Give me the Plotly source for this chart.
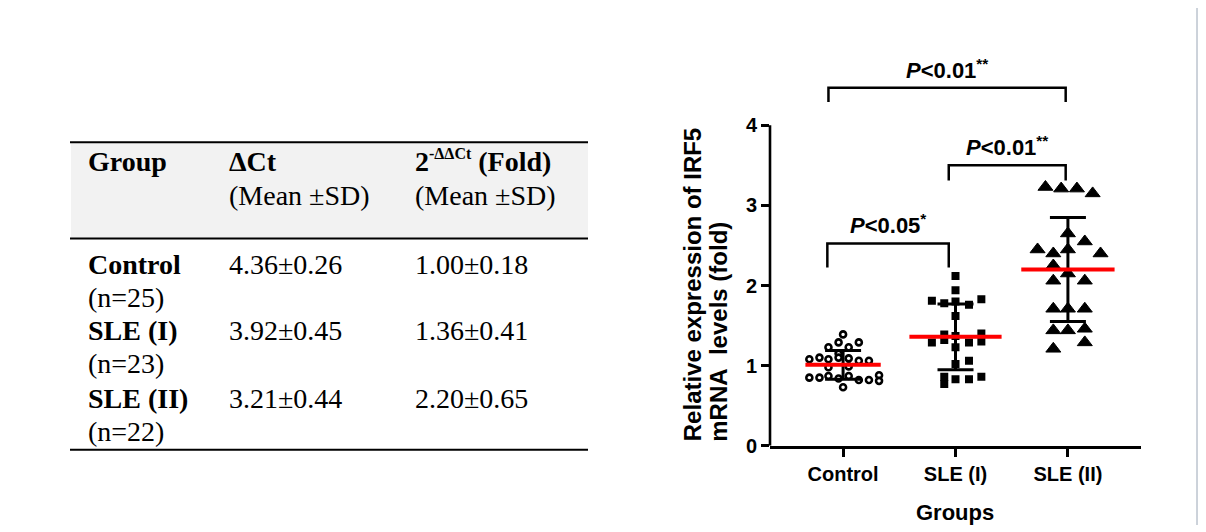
import plotly.graph_objects as go

# Page geometry: the body keeps an 8px margin, and the captured page is
# slightly taller (in CSS px) than the final picture, which is squeezed to 532.
WIN_W, PAGE_MARGIN = 1206, 8
PIC_H, PAGE_H = 532, 544
S_Y = PIC_H / PAGE_H
W, H = WIN_W - 2 * PAGE_MARGIN, PAGE_H - 2 * PAGE_MARGIN

# ---------------- data ----------------
groups = ["Control", "SLE (I)", "SLE (II)"]

control_offsets = [0.00, -0.04, 0.14, -0.13, 0.05, -0.04, -0.30, -0.21, -0.13, -0.04, 0.05,
                   0.14, 0.23, -0.13, 0.05, -0.30, -0.21, -0.13, -0.04, 0.05, 0.14, 0.23,
                   0.32, 0.32, 0.00]
control_values = [1.39, 1.29, 1.29, 1.23, 1.23, 1.15, 1.08, 1.10, 1.08, 1.10, 1.09,
                  1.06, 1.06, 0.98, 0.99, 0.85, 0.85, 0.87, 0.84, 0.87, 0.82, 0.82,
                  0.88, 0.81, 0.73]

sle1_offsets = [0.00, 0.00, -0.21, -0.10, 0.00, 0.12, 0.23, 0.00,
                -0.10, -0.10, 0.00, 0.23, 0.23, -0.21, 0.12, 0.00, 0.12, 0.00,
                -0.10, -0.10, 0.00, 0.12, 0.23]
sle1_values = [2.12, 1.94, 1.81, 1.78, 1.80, 1.76, 1.83, 1.62,
               1.39, 1.32, 1.37, 1.40, 1.30, 1.29, 1.29, 1.23, 1.06, 1.02,
               0.86, 0.77, 0.83, 0.83, 0.86]

sle2_offsets = [-0.20, -0.06, 0.08, 0.22, 0.00, 0.15, -0.27, -0.13, 0.00, 0.29, -0.13,
                -0.13, 0.00, 0.15, -0.13, 0.00, 0.15, -0.13, 0.00, 0.15, 0.15, -0.13]
sle2_values = [3.23, 3.21, 3.21, 3.15, 2.65, 2.55, 2.45, 2.40, 2.45, 2.40, 2.25,
               2.06, 2.15, 2.06, 1.71, 1.71, 1.71, 1.44, 1.44, 1.46, 1.29, 1.21]

group_means = [1.01, 1.36, 2.20]
group_sds = [0.18, 0.41, 0.65]
y_ticks = [0, 1, 2, 3, 4]

# significance brackets
bracket_x0 = [-0.14, 0.94, -0.13]
bracket_x1 = [0.94, 1.98, 1.98]
bracket_top = [2.525, 3.50, 4.47]
bracket_drop = [0.30, 0.19, 0.18]
bracket_p = ["0.05", "0.01", "0.01"]
bracket_stars = ["*", "**", "**"]

# table content
table_head = ["Group", "ΔCt", "2<sup><span style='font-size:16px'>-ΔΔCt</span></sup> (Fold)"]
table_subhead = ["", "(Mean ±SD)", "(Mean ±SD)"]
table_groups = ["Control", "SLE (I)", "SLE (II)"]
table_n = ["(n=25)", "(n=23)", "(n=22)"]
table_dct = ["4.36±0.26", "3.92±0.45", "3.21±0.44"]
table_fold = ["1.00±0.18", "1.36±0.41", "2.20±0.65"]

# ---------------- helpers (picture pixel -> paper) ----------------
def px(x):
    return (x - PAGE_MARGIN) / W

def py(y):
    return 1 - (y / S_Y - PAGE_MARGIN) / H

SANS = "Liberation Sans, Arial, sans-serif"
SERIF = "Liberation Serif, Times New Roman, serif"

fig = go.Figure()

# points
fig.add_trace(go.Scatter(
    x=[0 + o for o in control_offsets], y=control_values, mode="markers",
    marker=dict(symbol="circle", size=6, color="white", line=dict(color="black", width=2.6)),
    hoverinfo="skip", showlegend=False))
fig.add_trace(go.Scatter(
    x=[1 + o for o in sle1_offsets], y=sle1_values, mode="markers",
    marker=dict(symbol="square", size=8, color="black", line=dict(width=0)),
    hoverinfo="skip", showlegend=False))
fig.add_trace(go.Scatter(
    x=[2 + o for o in sle2_offsets], y=sle2_values, mode="markers",
    marker=dict(symbol="triangle-up", size=13, color="black", line=dict(color="black", width=1)),
    hoverinfo="skip", showlegend=False))

# SD error bars
fig.add_trace(go.Scatter(
    x=list(range(len(groups))), y=group_means, mode="markers",
    marker=dict(size=1, color="rgba(0,0,0,0)"),
    error_y=dict(type="data", array=group_sds, visible=True, color="black", thickness=3, width=18),
    hoverinfo="skip", showlegend=False))

# mean lines
mean_half = [0.335, 0.41, 0.415]
for i, m in enumerate(group_means):
    fig.add_trace(go.Scatter(
        x=[i - mean_half[i], i + mean_half[i]], y=[m, m], mode="lines",
        line=dict(color="#ff0000", width=4), hoverinfo="skip", showlegend=False))

shapes = []
# y axis line from 0 to 4
shapes.append(dict(type="line", xref="x domain", yref="y", x0=0, x1=0, y0=0, y1=max(y_ticks),
                   line=dict(color="black", width=2.6)))

# brackets
for x0, x1, top, drop in zip(bracket_x0, bracket_x1, bracket_top, bracket_drop):
    shapes.append(dict(type="path", xref="x", yref="y",
                       path=f"M {x0},{top - drop} L {x0},{top} L {x1},{top} L {x1},{top - drop}",
                       line=dict(color="black", width=2.5)))

annotations = []
for x0, x1, top, p, s in zip(bracket_x0, bracket_x1, bracket_top, bracket_p, bracket_stars):
    annotations.append(dict(
        x=(x0 + x1) / 2, y=top, xref="x", yref="y", showarrow=False,
        xanchor="center", yanchor="bottom", yshift=3,
        text=f"<i>P</i>&lt;{p}<sup>{s}</sup>",
        font=dict(family=SANS, size=22, color="black", weight="bold")))

# axis titles
annotations.append(dict(x=1, y=py(512), xref="x", yref="paper", showarrow=False,
                        xanchor="center", yanchor="middle", text="Groups",
                        font=dict(family=SANS, size=22, color="black", weight="bold")))
annotations.append(dict(x=px(692), y=py(443), xref="paper", yref="paper", showarrow=False,
                        xanchor="center", yanchor="bottom", textangle=-90,
                        text="Relative expression of IRF5",
                        font=dict(family=SANS, size=24, color="black", weight="bold")))
annotations.append(dict(x=px(719), y=py(443), xref="paper", yref="paper", showarrow=False,
                        xanchor="center", yanchor="bottom", textangle=-90,
                        text="mRNA\u00a0\u00a0levels (fold)",
                        font=dict(family=SANS, size=24, color="black", weight="bold")))

# ---------------- table ----------------
TL, TR = 71, 588
HEAD_TOP, HEAD_BOT, TAB_BOT = 142, 238, 449
shapes.append(dict(type="rect", xref="paper", yref="paper", x0=px(TL), x1=px(TR),
                   y0=py(HEAD_BOT), y1=py(HEAD_TOP), fillcolor="#f2f2f2", line=dict(width=0),
                   layer="below"))
for yy in (HEAD_TOP, HEAD_BOT, TAB_BOT):
    shapes.append(dict(type="line", xref="paper", yref="paper", x0=px(TL - 1), x1=px(TR),
                       y0=py(yy), y1=py(yy), line=dict(color="black", width=2)))

col_x = [86, 227, 413]

def tab_text(x, y, text, bold):
    annotations.append(dict(x=px(x), y=py(y), xref="paper", yref="paper", showarrow=False,
                            xanchor="left", yanchor="middle", text=text,
                            font=dict(family=SERIF, size=28, color="black",
                                      weight="bold" if bold else "normal")))

for cx, t in zip(col_x, table_head):
    tab_text(cx, 161, t, True)
for cx, t in zip(col_x, table_subhead):
    if t:
        tab_text(cx, 195, t, False)

row_y = [264, 330, 398]
for ry, g, n, d, f in zip(row_y, table_groups, table_n, table_dct, table_fold):
    tab_text(col_x[0], ry, g, True)
    tab_text(col_x[0], ry + 33, n, False)
    tab_text(col_x[1], ry, d, False)
    tab_text(col_x[2], ry, f, False)

# frame edge on the right
FRAME = "#9aa6b6"
shapes.append(dict(type="line", xref="paper", yref="paper", x0=px(1197), x1=px(1197),
                   y0=0, y1=1, line=dict(color=FRAME, width=1)))

fig.update_layout(
    width=W, height=H,
    margin=dict(l=0, r=0, t=0, b=0),
    paper_bgcolor="white", plot_bgcolor="white",
    showlegend=False,
    shapes=shapes, annotations=annotations,
    xaxis=dict(domain=[px(770), px(1141)], range=[-0.65, 2.65],
               tickvals=list(range(len(groups))), ticktext=groups,
               ticks="outside", ticklen=8, tickwidth=2.5, tickcolor="black",
               showline=True, linewidth=2.6, linecolor="black",
               showgrid=False, zeroline=False,
               tickfont=dict(family=SANS, size=20, color="black", weight="bold")),
    yaxis=dict(domain=[py(445), py(61)], range=[0, 4.8],
               tickvals=y_ticks, ticks="outside", ticklen=8, tickwidth=2.5, tickcolor="black",
               showline=False, showgrid=False, zeroline=False,
               tickfont=dict(family=SANS, size=20, color="black", weight="bold")),
)

fig.write_html("out.html", config={"displayModeBar": False})
